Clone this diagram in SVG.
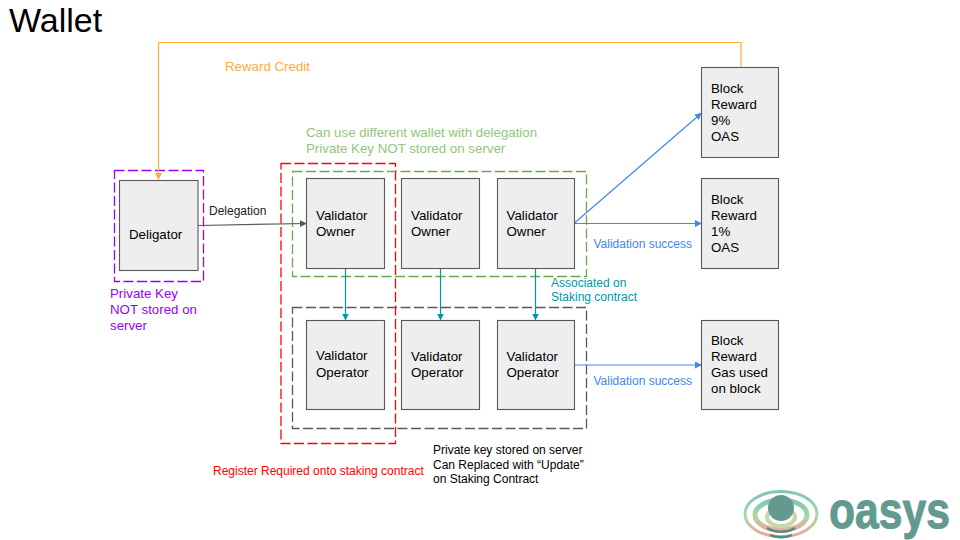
<svg xmlns="http://www.w3.org/2000/svg" width="960" height="540" viewBox="0 0 960 540">
<style>
text{font-family:"Liberation Sans",Arial,sans-serif;font-size:13.3px;fill:#000}
.box{fill:#eeeeee;stroke:#595959;stroke-width:1.1}
.dash{fill:none;stroke-width:1.3;stroke-dasharray:10 3.500}
.c{fill:none;stroke-width:1.2}
.t{fill:#0097a7}
</style>
<defs>
<marker id="ao" markerUnits="userSpaceOnUse" markerWidth="8" markerHeight="8" refX="6" refY="3.500" orient="auto"><path d="M0 0L7 3.500L0 7z" fill="#ffab40"/></marker>
<marker id="ag" markerUnits="userSpaceOnUse" markerWidth="8" markerHeight="8" refX="6" refY="3.500" orient="auto"><path d="M0 0L7 3.500L0 7z" fill="#595959"/></marker>
<marker id="at" markerUnits="userSpaceOnUse" markerWidth="8" markerHeight="8" refX="6" refY="3.500" orient="auto"><path d="M0 0L7 3.500L0 7z" fill="#0097a7"/></marker>
<marker id="ab" markerUnits="userSpaceOnUse" markerWidth="8" markerHeight="8" refX="6" refY="3.500" orient="auto"><path d="M0 0L7 3.500L0 7z" fill="#4285f4"/></marker>
<linearGradient id="ring" x1="0" y1="0" x2="0" y2="1"><stop offset="0" stop-color="#7fc4bb"/><stop offset=".55" stop-color="#a9d9a0"/><stop offset="1" stop-color="#eda79f"/></linearGradient>
</defs>
<rect width="960" height="540" fill="#fff"/>
<text x="9" y="32" style="font-size:34px">Wallet</text>
<g id="groups">
<rect class="dash" x="114.500" y="170.500" width="89" height="111" stroke="#9900ff"/>
<rect class="dash" x="281" y="163.500" width="114.500" height="280" stroke="#ff0000"/>
<rect class="dash" x="292.500" y="171.500" width="294" height="105" stroke="#6aa84f"/>
<rect class="dash" x="292.500" y="307.500" width="294" height="121" stroke="#595959"/>
</g>
<g id="connectors">
<path class="c" d="M741 67V42.500H158.500V179" stroke="#ffab40" marker-end="url(#ao)"/>
<path class="c" d="M198 225.500L306 223.500" stroke="#595959" marker-end="url(#ag)"/>
<path class="c" d="M345.500 268.500V319.500" stroke="#0097a7" marker-end="url(#at)"/>
<path class="c" d="M440.500 268.500V319.500" stroke="#0097a7" marker-end="url(#at)"/>
<path class="c" d="M535.500 268.500V319.500" stroke="#0097a7" marker-end="url(#at)"/>
<path class="c" d="M574.500 223L701 113.500" stroke="#4285f4" marker-end="url(#ab)"/>
<path class="c" d="M574.500 223.500H701" stroke="#4285f4" marker-end="url(#ab)"/>
<path class="c" d="M574.500 365H701" stroke="#4285f4" marker-end="url(#ab)"/>
</g>
<g id="deligator"><rect class="box" x="119.500" y="180.500" width="78.500" height="90"/><text x="129" y="239">Deligator</text></g>
<g id="owner1"><rect class="box" x="306.500" y="178.500" width="78" height="90"/><text x="316" y="220">Validator</text><text x="316" y="236">Owner</text></g>
<g id="owner2"><rect class="box" x="401.500" y="178.500" width="78" height="90"/><text x="411" y="220">Validator</text><text x="411" y="236">Owner</text></g>
<g id="owner3"><rect class="box" x="497.500" y="178.500" width="77" height="90"/><text x="506.500" y="220">Validator</text><text x="506.500" y="236">Owner</text></g>
<g id="operator1"><rect class="box" x="306.500" y="320.500" width="78" height="89"/><text x="316" y="360">Validator</text><text x="316" y="377">Operator</text></g>
<g id="operator2"><rect class="box" x="401.500" y="320.500" width="78" height="89"/><text x="411" y="361">Validator</text><text x="411" y="377">Operator</text></g>
<g id="operator3"><rect class="box" x="497.500" y="320.500" width="77" height="89"/><text x="506.500" y="361">Validator</text><text x="506.500" y="377">Operator</text></g>
<g id="reward9"><rect class="box" x="701.500" y="67.500" width="77" height="90"/><text x="711" y="93">Block</text><text x="711" y="109">Reward</text><text x="711" y="125">9%</text><text x="711" y="141">OAS</text></g>
<g id="reward1"><rect class="box" x="701.500" y="178.500" width="77" height="90"/><text x="711" y="204">Block</text><text x="711" y="220">Reward</text><text x="711" y="236">1%</text><text x="711" y="252">OAS</text></g>
<g id="rewardgas"><rect class="box" x="701.500" y="320.500" width="77" height="89"/><text x="711" y="345">Block</text><text x="711" y="361">Reward</text><text x="711" y="377">Gas used</text><text x="711" y="393">on block</text></g>
<g id="labels">
<text x="225" y="71" style="fill:#ffab40">Reward Credit</text>
<text x="306" y="137" style="fill:#93c47d">Can use different wallet with delegation</text>
<text x="306" y="153" style="fill:#93c47d">Private Key NOT stored on server</text>
<text x="209" y="215" style="font-size:12px;fill:#222">Delegation</text>
<text x="110" y="298" style="fill:#9900ff">Private Key</text>
<text x="110" y="314" style="fill:#9900ff">NOT stored on</text>
<text x="110" y="330" style="fill:#9900ff">server</text>
<text x="593.500" y="247.500" style="font-size:12px;fill:#4285f4">Validation success</text>
<text x="593.500" y="385" style="font-size:12px;fill:#4285f4">Validation success</text>
<text x="551" y="287" class="t" style="font-size:12px">Associated on</text>
<text x="551" y="301" class="t" style="font-size:12px">Staking contract</text>
<text x="213" y="475" style="font-size:12px;fill:#ff0000">Register Required onto staking contract</text>
<text x="433" y="454" style="font-size:12px">Private key stored on server</text>
<text x="433" y="469" style="font-size:12px">Can Replaced with “Update”</text>
<text x="433" y="483" style="font-size:12px">on Staking Contract</text>
</g>
<g id="logo" fill="none">
<ellipse cx="781" cy="514" rx="36" ry="22.500" stroke="url(#ring)" stroke-width="3"/>
<ellipse cx="781" cy="515" rx="26" ry="15" stroke="url(#ring)" stroke-width="5"/>
<ellipse cx="781" cy="517" rx="14" ry="9" stroke="#c8d8a8" stroke-width="4"/>
<path d="M767 528C775 533 787 533 795 528M770 535C776 538 786 538 792 535" stroke="#4f8c82" stroke-width="2.500"/>
<circle cx="781" cy="508" r="13" fill="#63998e"/>
<text transform="translate(829 528) scale(.82 1)" style="font-size:52px;font-weight:bold;fill:#63998e;stroke:#63998e;stroke-width:1">oasys</text>
</g>
</svg>
